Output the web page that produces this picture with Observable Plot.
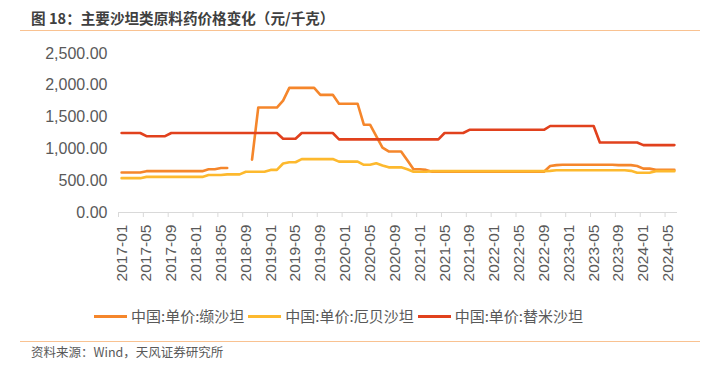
<!DOCTYPE html>
<html>
<head>
<meta charset="utf-8">
<script src="https://cdn.jsdelivr.net/npm/d3@7"></script>
<script src="https://cdn.jsdelivr.net/npm/@observablehq/plot@0.6"></script>
<style>
  html, body { margin: 0; padding: 0; background: #fff; }
  #wrap { position: relative; width: 720px; height: 370px; overflow: hidden; font-family: "Noto Sans CJK SC", "Liberation Sans", sans-serif; }
  #title { position: absolute; left: 31px; top: 7px; font-size: 14.6px; font-weight: bold; color: #404040; white-space: nowrap; line-height: 22px; }
  #topline { position: absolute; left: 20px; top: 30px; width: 680px; height: 0; border-top: 1.5px solid #F9C291; }
  #chart { position: absolute; left: 0; top: 31px; }
  #legend { position: absolute; left: 94px; top: 304px; display: flex; align-items: center; font-size: 15px; color: #595959; white-space: nowrap; line-height: 24px; }
  #legend .sw { display: inline-block; width: 33px; height: 0; border-top: 3px solid; margin-right: 4px; }
  #legend .item { display: flex; align-items: center; margin-right: 4px; }
  #botline { position: absolute; left: 20px; top: 341px; width: 680px; height: 0; border-top: 1.5px solid #F9C291; }
  #source { position: absolute; left: 31px; top: 343px; font-size: 12.5px; color: #595959; white-space: nowrap; line-height: 18px; }
</style>
</head>
<body>
<div id="wrap">
  <div id="title">图 18：主要沙坦类原料药价格变化（元/千克）</div>
  <div id="topline"></div>
  <div id="chart"></div>
  <div id="legend"></div>
  <div id="botline"></div>
  <div id="source">资料来源：Wind，天风证券研究所</div>
</div>
<script>
// Monthly categories, 2017-01 .. 2024-06
const months = [
  "2017-01","2017-02","2017-03","2017-04","2017-05","2017-06","2017-07","2017-08","2017-09","2017-10","2017-11","2017-12",
  "2018-01","2018-02","2018-03","2018-04","2018-05","2018-06","2018-07","2018-08","2018-09","2018-10","2018-11","2018-12",
  "2019-01","2019-02","2019-03","2019-04","2019-05","2019-06","2019-07","2019-08","2019-09","2019-10","2019-11","2019-12",
  "2020-01","2020-02","2020-03","2020-04","2020-05","2020-06","2020-07","2020-08","2020-09","2020-10","2020-11","2020-12",
  "2021-01","2021-02","2021-03","2021-04","2021-05","2021-06","2021-07","2021-08","2021-09","2021-10","2021-11","2021-12",
  "2022-01","2022-02","2022-03","2022-04","2022-05","2022-06","2022-07","2022-08","2022-09","2022-10","2022-11","2022-12",
  "2023-01","2023-02","2023-03","2023-04","2023-05","2023-06","2023-07","2023-08","2023-09","2023-10","2023-11","2023-12",
  "2024-01","2024-02","2024-03","2024-04","2024-05","2024-06"
];

// 中国:单价:缬沙坦
const valsartan = [
  630,630,630,630,650,650,650,650,650,650,650,650,
  650,650,680,680,700,700,null,null,null,830,1650,1650,
  1650,1650,1760,1960,1960,1960,1960,1960,1850,1850,1850,1710,
  1710,1710,1710,1380,1380,1200,1020,960,960,960,820,680,
  680,670,640,640,640,640,640,640,640,640,640,640,
  640,640,640,640,640,640,640,640,640,730,745,750,
  750,750,750,750,750,750,750,750,745,745,745,730,
  690,690,670,670,670,670
];

// 中国:单价:厄贝沙坦
const irbesartan = [
  540,540,540,540,560,560,560,560,560,560,560,560,
  560,560,590,590,590,600,600,600,640,640,640,640,
  670,670,770,790,790,840,840,840,840,840,840,800,
  800,800,800,750,750,775,740,710,710,710,680,640,
  640,640,650,650,650,650,650,650,650,650,650,650,
  650,650,650,650,650,650,650,650,650,655,665,665,
  665,665,665,665,665,665,665,665,665,665,655,625,
  625,625,650,650,650,650
];

// 中国:单价:替米沙坦
const telmisartan = [
  1250,1250,1250,1250,1200,1200,1200,1200,1250,1250,1250,1250,
  1250,1250,1250,1250,1250,1250,1250,1250,1250,1250,1250,1250,
  1250,1250,1160,1160,1160,1250,1250,1250,1250,1250,1250,1150,
  1150,1150,1150,1150,1150,1150,1150,1150,1150,1150,1150,1150,
  1150,1150,1150,1150,1250,1250,1250,1250,1300,1300,1300,1300,
  1300,1300,1300,1300,1300,1300,1300,1300,1300,1360,1360,1360,
  1360,1360,1360,1360,1360,1100,1100,1100,1100,1100,1100,1100,
  1060,1060,1060,1060,1060,1060
];

const seriesNames = ["中国:单价:缬沙坦", "中国:单价:厄贝沙坦", "中国:单价:替米沙坦"];
const seriesColors = ["#F5862B", "#FDB92E", "#E1411D"];
const yTicks = [0, 500, 1000, 1500, 2000, 2500];
const tickLabels = ["2017-01","2017-05","2017-09","2018-01","2018-05","2018-09","2019-01","2019-05","2019-09",
  "2020-01","2020-05","2020-09","2021-01","2021-05","2021-09","2022-01","2022-05","2022-09",
  "2023-01","2023-05","2023-09","2024-01","2024-05"];

const seriesValues = [valsartan, irbesartan, telmisartan];
const rows = [];
seriesValues.forEach((vals, s) => vals.forEach((v, i) => rows.push({series: seriesNames[s], i, value: v})));

const labelIdx = tickLabels.map(l => months.indexOf(l));
const boundaryIdx = labelIdx.map(i => i - 0.5);

const chart = Plot.plot({
  width: 720,
  height: 265,
  marginLeft: 118,
  marginRight: 43,
  marginTop: 22,
  marginBottom: 84,
  style: { fontFamily: "'Liberation Sans', Arial, sans-serif", color: "#595959", background: "transparent" },
  x: { type: "linear", domain: [-0.5, months.length - 0.5] },
  y: { domain: [0, 2500] },
  color: { domain: seriesNames, range: seriesColors },
  marks: [
    Plot.axisY(yTicks, { tickSize: 0, tickPadding: 11, tickFormat: d3.format(",.2f"), fontSize: 16, fill: "#595959", label: null }),
    Plot.axisX(boundaryIdx, { tickSize: 5, tickFormat: () => "", stroke: "#d9d9d9", label: null }),
    Plot.axisX(labelIdx, { tickSize: 0, tickPadding: 12, tickRotate: -90, tickFormat: i => months[i], fontSize: 15.5, fill: "#595959", label: null }),
    Plot.ruleY([0], { stroke: "#d9d9d9", strokeWidth: 1 }),
    Plot.line(rows, { x: "i", y: "value", z: "series", stroke: "series", strokeWidth: 2.6, curve: "linear" })
  ]
});
document.getElementById("chart").appendChild(chart);

const legend = document.getElementById("legend");
seriesNames.forEach((name, k) => {
  const item = document.createElement("span");
  item.className = "item";
  const sw = document.createElement("span");
  sw.className = "sw";
  sw.style.borderTopColor = seriesColors[k];
  item.appendChild(sw);
  const t = document.createElement("span");
  t.textContent = name;
  item.appendChild(t);
  legend.appendChild(item);
});
</script>
</body>
</html>
